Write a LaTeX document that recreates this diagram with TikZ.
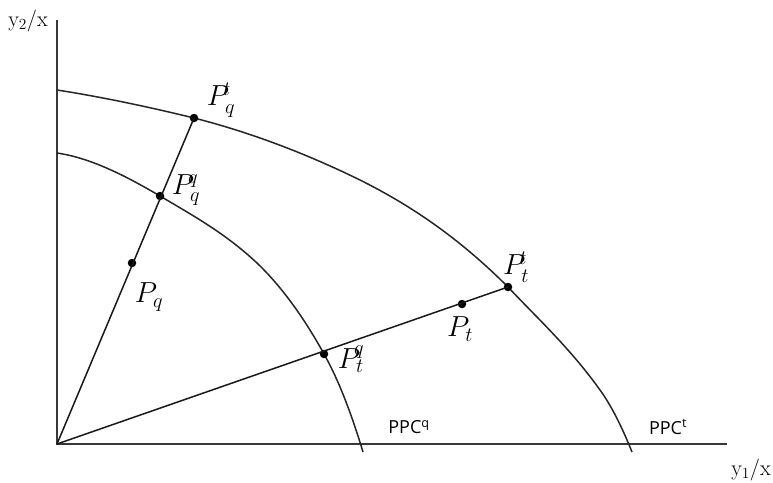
\RequirePackage{fix-cm}
\documentclass[tikz,border=0pt]{standalone}
\usepackage{fontspec}
\newfontfamily\ppcfont{Open Sans}
\begin{document}
\begin{tikzpicture}[x=1pt,y=-1pt,
  axis/.style={line width=2pt,draw=black!78},
  curve/.style={line width=1.5pt,draw=black!85},
  ray/.style={line width=1.5pt,draw=black!90},
  dot/.style={circle,fill=black,inner sep=0pt,minimum size=8.5pt},
  plab/.style={font=\fontsize{29}{31}\selectfont},
  axlab/.style={font=\fontsize{22}{24}\selectfont},
  ppclab/.style={font=\ppcfont\fontsize{18}{20}\selectfont}]
\useasboundingbox (0,0) rectangle (773,482);
% axes
\coordinate (O) at (57,444);
\coordinate (ytop) at (57,20);
\coordinate (xend) at (727,444);
\draw[axis] (ytop) -- (O) -- (xend);
% curves
\draw[curve] (57,90) .. controls (102,97) and (149,107) .. (194,118)
  .. controls (249,132) and (305,153) .. (360,180)
  .. controls (410,205) and (458,237) .. (508,287)
  .. controls (538,319) and (570,348) .. (600,390)
  .. controls (611,405) and (622,427) .. (632,452);
\draw[curve] (57,153) .. controls (91,158) and (126,176) .. (160,196)
  .. controls (192,215) and (225,233) .. (257,263)
  .. controls (279,284) and (302,314) .. (324,354)
  .. controls (337,377) and (350,409) .. (363,452);
% points
\node[dot] (Pqt) at (194,118) {};
\node[dot] (Pqq) at (160,196) {};
\node[dot] (Pq) at (132,263) {};
\node[dot] (Ptt) at (508,287) {};
\node[dot] (Pt) at (462,304) {};
\node[dot] (Ptq) at (324,354) {};
% rays
\draw[ray] (O) -- (Pqt.center);
\draw[ray] (O) -- (Ptt.center);
% labels
\node[plab] (lPqt) at (221,100) {$P_q^{\kern-6pt t}$};
\node[plab] (lPqq) at (186,190) {$P_q^{\kern-6pt q}$};
\node[plab] (lPq) at (149,297) {$P_q$};
\node[plab] (lPtt) at (516,267) {$P_t^{\kern-6pt t}$};
\node[plab] (lPt) at (460,329) {$P_t$};
\node[plab] (lPtq) at (351,359) {$P_t^{\kern-6pt q}$};
\node[axlab] (ly2) at (28,21) {y$_2$/x};
\node[axlab] (ly1) at (751,470) {y$_1$/x};
\node[ppclab] (lppcq) at (409,427) {PPC\textsuperscript{q}};
\node[ppclab] (lppct) at (668,427) {PPC\textsuperscript{t}};
\end{tikzpicture}
\end{document}
